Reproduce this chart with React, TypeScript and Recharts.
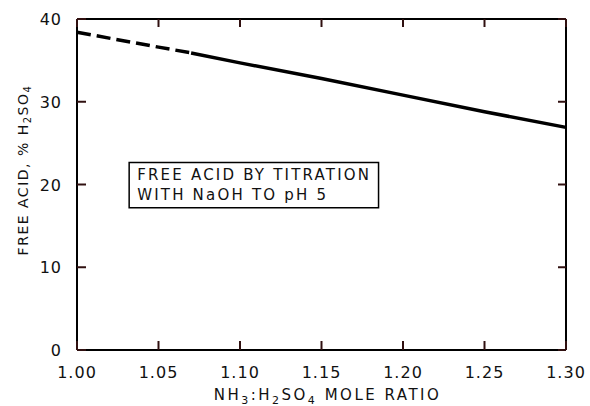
import React from 'react';
import { LineChart, Line, XAxis, YAxis, ReferenceArea } from 'recharts';

const ratio = [1.0, 1.05, 1.07, 1.1, 1.15, 1.2, 1.25, 1.3];
const extrapolated = [38.4, 36.6, 35.9, null, null, null, null, null];
const measured = [null, null, 35.9, 34.7, 32.8, 30.8, 28.8, 26.9];
const xTicks = [1.0, 1.05, 1.1, 1.15, 1.2, 1.25, 1.3];
const xTickLabels = ['1.00', '1.05', '1.10', '1.15', '1.20', '1.25', '1.30'];
const yTicks = [0, 10, 20, 30, 40];
const noteLines = ['FREE ACID BY TITRATION', 'WITH NaOH TO pH 5'];

const data = ratio.map((x, i) => ({ x, extrapolated: extrapolated[i], measured: measured[i] }));

const FONT = '"DejaVu Sans", sans-serif';
const INK = '#111';
const MARK = '#301010';
const TICK_LEN = 9;
const LABEL_GAP = 15;

const BottomTick = (props: any) => {
  const { x, y, index } = props;
  const axisY = y - LABEL_GAP;
  return (
    <g>
      <line x1={x} x2={x} y1={axisY} y2={axisY - TICK_LEN} stroke={MARK} strokeWidth={2} />
      <text x={x} y={y + 13} textAnchor="middle" fontFamily={FONT} fontSize={16} letterSpacing={1} fill={INK}>
        {xTickLabels[index]}
      </text>
    </g>
  );
};

const LeftTick = (props: any) => {
  const { x, y, payload } = props;
  const axisX = x + LABEL_GAP;
  return (
    <g>
      <line x1={axisX} x2={axisX + TICK_LEN} y1={y} y2={y} stroke={MARK} strokeWidth={2} />
      <text x={x} y={y + 6} textAnchor="end" fontFamily={FONT} fontSize={16} letterSpacing={1} fill={INK}>
        {payload.value}
      </text>
    </g>
  );
};

const TopTick = (props: any) => {
  const { x, y } = props;
  return <line x1={x} x2={x} y1={y} y2={y + 8} stroke={MARK} strokeWidth={2} />;
};

const RightTick = (props: any) => {
  const { x, y } = props;
  return <line x1={x} x2={x - 8} y1={y} y2={y} stroke={MARK} strokeWidth={2} />;
};

const XTitle = (props: any) => {
  const vb = props.viewBox || {};
  const cx = vb.x + vb.width / 2 + 6;
  const y = vb.y + 50;
  return (
    <text x={cx} y={y} textAnchor="middle" fontFamily={FONT} fontSize={15} letterSpacing={2.5} fill={INK}>
      <tspan>NH</tspan>
      <tspan dy={4} fontSize={11}>3</tspan>
      <tspan dy={-4}>:H</tspan>
      <tspan dy={4} fontSize={11}>2</tspan>
      <tspan dy={-4}>SO</tspan>
      <tspan dy={4} fontSize={11}>4</tspan>
      <tspan dy={-4}> MOLE RATIO</tspan>
    </text>
  );
};

const YTitle = (props: any) => {
  const vb = props.viewBox || {};
  const cx = vb.x + 6;
  const cy = 170;
  return (
    <text
      x={cx}
      y={cy}
      transform={`rotate(-90, ${cx}, ${cy})`}
      textAnchor="middle"
      dominantBaseline="central"
      fontFamily={FONT}
      fontSize={14}
      letterSpacing={1.5}
      fill={INK}
    >
      <tspan>FREE ACID, % H</tspan>
      <tspan dy={4} fontSize={10}>2</tspan>
      <tspan dy={-4}>SO</tspan>
      <tspan dy={4} fontSize={10}>4</tspan>
    </text>
  );
};

const NoteText = (props: any) => {
  const vb = props.viewBox || {};
  return (
    <g>
      {noteLines.map((t, i) => (
        <text key={i} x={vb.x + 8} y={vb.y + 17 + i * 20} fontFamily={FONT} fontSize={15} letterSpacing={2.2} fill={INK}>
          {t}
        </text>
      ))}
    </g>
  );
};

export default function App() {
  const axisLine = { stroke: '#000', strokeWidth: 2 };
  return (
    <div style={{ position: 'absolute', left: 0, top: 0, width: 590, height: 406, background: '#fff' }}>
      <LineChart width={590} height={406} data={data} margin={{ top: 18, right: 23, bottom: 0, left: 17 }}>
        <XAxis dataKey="x" type="number" domain={[1.0, 1.3]} ticks={xTicks} interval={0} height={56}
          axisLine={axisLine} tickLine={false} tickSize={0} tickMargin={LABEL_GAP} tick={BottomTick}
          label={{ content: XTitle }} />
        <XAxis xAxisId="top" dataKey="x" orientation="top" type="number" domain={[1.0, 1.3]} ticks={xTicks}
          interval={0} height={1} axisLine={axisLine} tickLine={false} tickSize={0} tickMargin={0} tick={TopTick} />
        <YAxis type="number" domain={[0, 40]} ticks={yTicks} interval={0} width={60} axisLine={axisLine}
          tickLine={false} tickSize={0} tickMargin={LABEL_GAP} tick={LeftTick} label={{ content: YTitle }} />
        <YAxis yAxisId="right" dataKey="measured" orientation="right" type="number" domain={[0, 40]} ticks={yTicks}
          interval={0} width={1} axisLine={axisLine} tickLine={false} tickSize={0} tickMargin={0} tick={RightTick} />
        <ReferenceArea x1={1.032} x2={1.185} y1={17.2} y2={22.65} fill="#fff" fillOpacity={1} stroke="#000"
          strokeWidth={1.5} label={{ content: NoteText }} />
        <Line dataKey="extrapolated" stroke="#000" strokeWidth={3.5} strokeDasharray="14 6" dot={false}
          activeDot={false} isAnimationActive={false} />
        <Line dataKey="measured" stroke="#000" strokeWidth={3.5} dot={false} activeDot={false} isAnimationActive={false} />
      </LineChart>
    </div>
  );
}
